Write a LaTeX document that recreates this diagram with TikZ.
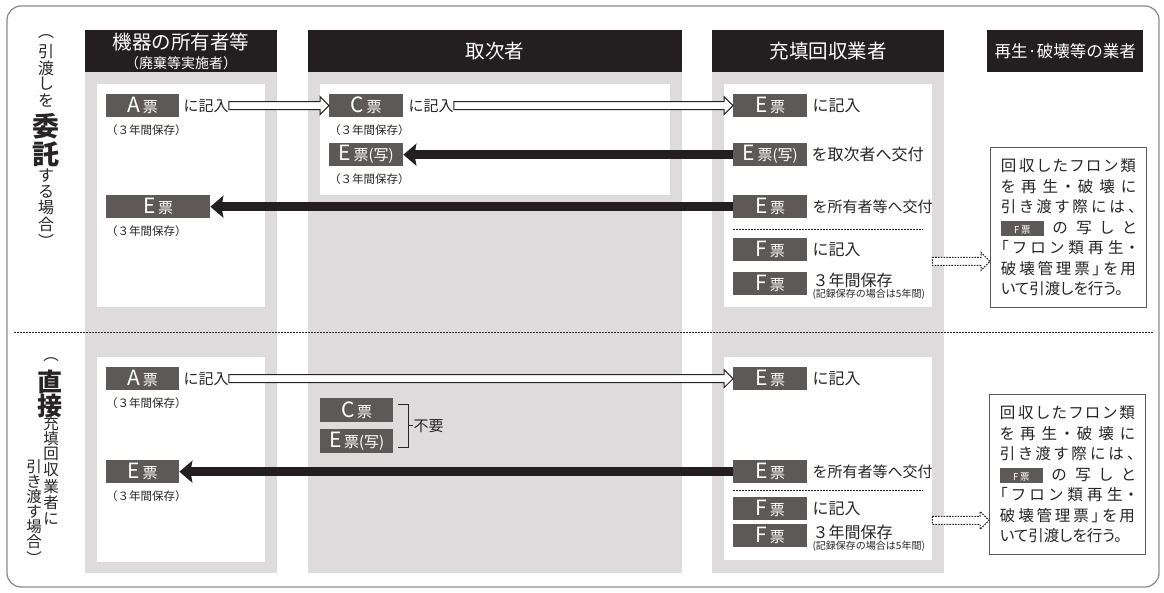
\documentclass[tikz,border=0pt]{standalone}
\usepackage{fontspec}
\setmainfont{Noto Sans CJK JP}
\newfontfamily\notefont[RawFeature=+palt]{Noto Sans CJK JP}
\usetikzlibrary{arrows.meta,calc,positioning}

\definecolor{headblack}{RGB}{35,31,32}
\definecolor{colgray}{RGB}{221,219,219}
\definecolor{ticketgray}{RGB}{94,89,89}
\definecolor{framegray}{RGB}{140,140,140}
\definecolor{inkgray}{RGB}{38,36,36}

\newcommand{\fs}[1]{\fontsize{#1}{#1}\selectfont}
\newcommand{\tk}[2][票]{{\fs{21}#2}\hspace{2.5pt}{\fs{15}#1}}
\newcommand{\fbadge}{{\setlength{\fboxsep}{0pt}\colorbox{ticketgray}{\rule[-2.5pt]{0pt}{14.5pt}\makebox[43pt]{\color{white}\fs{9.5}F\,票}}}}

\makeatletter
\newcommand{\spreadline}[1]{\makebox[135pt][s]{\@tfor\sp@ch:=#1\do{\sp@ch\hfill}\unskip}}
\makeatother

\newcommand{\notetext}{%
  \spreadline{回収したフロン類}\\
  \spreadline{を再生・破壊に}\\
  \spreadline{引き渡す際には、}\\
  \spreadline{{\fbadge}の写しと}\\
  \spreadline{「フロン類再生・}\\
  \spreadline{破壊管理票」を用}\\
  いて引渡しを行う。}

\newcommand{\hollowarrow}[3][]{%
  \path[hollow,#1] let \p1=(#2), \p2=(#3) in
    (\x1,\y1+4pt) -- (\x2-9pt,\y1+4pt) -- (\x2-9pt,\y1+9pt) -- (\x2,\y1)
    -- (\x2-9pt,\y1-9pt) -- (\x2-9pt,\y1-4pt) -- (\x1,\y1-4pt) -- cycle;}

\tikzset{
  headbar/.style={fill=headblack, text=white, inner sep=0pt, anchor=north west, minimum height=42pt},
  panel/.style={fill=white, inner sep=0pt, anchor=north west},
  ticket/.style={fill=ticketgray, text=white, inner sep=0pt, anchor=north west, minimum height=23pt, minimum width=74pt},
  keepnote/.style={anchor=north west, inner sep=0pt, text=inkgray, font=\fs{11.5}},
  actlabel/.style={anchor=west, inner sep=0pt, text=inkgray, font=\fs{15}},
  actlabelb/.style={actlabel, font=\fs{16}},
  hollow/.style={draw=inkgray, fill=white, line width=1pt},
  fatarrow/.style={line width=8.5pt, headblack, -{Stealth[length=13pt,width=22pt,inset=2pt]}},
  sepline/.style={inkgray, line width=0.6pt, dash pattern=on 1.6pt off 1.4pt},
  notebox/.style={draw=inkgray!75, line width=0.8pt, fill=white, anchor=north west, minimum width=156pt,
    minimum height=160pt, inner sep=0pt, text=inkgray, text width=135pt, align=left,
    font=\notefont\fontsize{15.5}{20.5}\selectfont},
  vch/.style={inner sep=0pt, text=inkgray, font=\fs{16}},
  vbig/.style={inner sep=0pt, text=inkgray, font=\fs{27}\bfseries},
}

\begin{document}
\begin{tikzpicture}[x=1pt, y=-1pt]
    \useasboundingbox (0,0) rectangle (1164,593);

    % frame
    \draw[framegray, line width=1.3pt, rounded corners=14pt] (7,6) rectangle (1159,587);

    % columns
    \fill[colgray] (85,72) rectangle (277,573);
    \fill[colgray] (308,72) rectangle (682,573);
    \fill[colgray] (712,72) rectangle (944,573);

    \node[headbar, minimum width=192pt, align=center, font=\fontsize{14}{19}\selectfont] (h1) at (85,30)
        {{\fs{19.5}機器の所有者等}\\{\fs{14}（廃棄等実施者）}};
    \node[headbar, minimum width=374pt, font=\fs{19.5}] (h2) at (308,30) {取次者};
    \node[headbar, minimum width=232pt, font=\fs{19.5}] (h3) at (712,30) {充填回収業者};
    \node[headbar, minimum width=156pt, font=\fs{16.5}] (h4) at (987,30) {再生·破壊等の業者};

    % white panels
    \node[panel, minimum width=168pt, minimum height=223pt] (p1a) at (97,84) {};
    \node[panel, minimum width=168pt, minimum height=205pt] (p1b) at (97,357) {};
    \node[panel, minimum width=350pt, minimum height=111pt] (p2a) at (320,84) {};
    \node[panel, minimum width=208pt, minimum height=223pt] (p3a) at (724,84) {};
    \node[panel, minimum width=208pt, minimum height=203pt] (p3b) at (724,357) {};

    \draw[sepline] (14,332) -- (1154,332);

    % side labels
    \foreach \ch/\yy in {︵/37,引/52,渡/68,し/84,を/100,す/176,る/192,場/208,合/224,︶/241}
        \node[vch] (vt\yy) at (46,\yy) {\ch};
    \node[vbig] (vtbig1) at (46,126) {委};
    \node[vbig] (vtbig2) at (46,154) {託};

    \foreach \ch/\yy in {︵/360,充/424,填/439,回/454,収/470,業/487,者/503,に/519}
        \node[vch, font=\fs{15.5}] (vr\yy) at (51,\yy) {\ch};
    \node[vbig, font=\fs{25}\bfseries] (vrbig1) at (50,382) {直};
    \node[vbig, font=\fs{25}\bfseries] (vrbig2) at (50,406) {接};
    \foreach \ch/\yy in {引/467,き/482,渡/497,す/512,場/527,合/542,︶/558}
        \node[vch, font=\fs{15.5}] (vl\yy) at (34,\yy) {\ch};

    % entrusted case
    \node[ticket, minimum width=73pt] (a1) at (106,94) {\tk{A}};
    \node[actlabel, right=4pt of a1] (a1t) {に記入};
    \node[keepnote] (a1n) at ([yshift=-7pt]a1.south west) {（３年間保存）};
    \node[ticket, minimum width=104pt] (e1) at (106,195) {\tk{E}};
    \node[keepnote] (e1n) at ([yshift=-7pt]e1.south west) {（３年間保存）};

    \node[ticket] (c2) at (329,94) {\tk{C}};
    \node[actlabel, right=5pt of c2] (c2t) {に記入};
    \node[keepnote] (c2n) at ([yshift=-7pt]c2.south west) {（３年間保存）};
    \node[ticket] (ec2) at (329,143) {\tk[票(写)]{E}};
    \node[keepnote] (ec2n) at ([yshift=-7pt]ec2.south west) {（３年間保存）};

    \node[ticket] (e3a) at (733,94) {\tk{E}};
    \node[actlabelb, right=5pt of e3a] (e3at) {に記入};
    \node[ticket] (ec3) at (733,143) {\tk[票(写)]{E}};
    \node[actlabelb, right=4pt of ec3] (ec3t) {を取次者へ交付};
    \node[ticket] (e3b) at (733,195) {\tk{E}};
    \node[actlabelb, font=\fs{15}, right=5pt of e3b] (e3bt) {を所有者等へ交付};
    \draw[sepline] ([yshift=-11pt]e3b.south west) -- ++(190pt,0);
    \node[ticket] (f3a) at (733,238) {\tk{F}};
    \node[actlabelb, right=5pt of f3a] (f3at) {に記入};
    \node[ticket] (f3b) at (733,272) {\tk{F}};
    \node[actlabel, anchor=north west, font=\fs{16}] (f3bt) at ([xshift=5pt,yshift=-1pt]f3b.north east) {３年間保存};
    \node[keepnote, font=\fs{10}] (f3bn) at ([yshift=-1pt]f3bt.south west) {(記録保存の場合は5年間)};

    \node[notebox] (note1) at (990,147) {\notetext};

    \hollowarrow{a1t.east |- a1.east}{c2.west}
    \hollowarrow{c2t.east |- c2.east}{e3a.west}
    \draw[fatarrow] (ec3.west) -- (ec2.east);
    \draw[fatarrow] (e3b.west) -- (e1.east |- e3b.west);
    \hollowarrow[dash pattern=on 1.6pt off 1.2pt]{p3a.east |- f3a.south}{note1.west}

    % direct case
    \node[ticket, minimum width=73pt] (a1b) at (106,367) {\tk{A}};
    \node[actlabel, right=4pt of a1b] (a1bt) {に記入};
    \node[keepnote] (a1bn) at ([yshift=-7pt]a1b.south west) {（３年間保存）};
    \node[ticket, minimum width=73pt] (e1b) at (106,460) {\tk{E}};
    \node[keepnote] (e1bn) at ([yshift=-7pt]e1b.south west) {（３年間保存）};

    \node[ticket, minimum width=73pt, minimum height=24pt] (c2b) at (320,398) {\tk{C}};
    \node[ticket, minimum width=73pt, minimum height=24pt] (ec2b) at (320,429) {\tk[票(写)]{E}};
    \coordinate (brt) at ([shift={(5pt,-6pt)}]c2b.north east);
    \coordinate (brb) at ([shift={(5pt,6pt)}]ec2b.south east);
    \draw[inkgray, line width=0.8pt] (brt) -- ++(10pt,0) |- (brb);
    \coordinate (brm) at ([xshift=10pt]$(brt)!0.5!(brb)$);
    \node[actlabel] (fuyo) at ([xshift=5pt]brm) {不要};
    \draw[inkgray, line width=0.8pt] (brm) -- (fuyo.west);

    \node[ticket] (e3c) at (733,367) {\tk{E}};
    \node[actlabelb, right=5pt of e3c] (e3ct) {に記入};
    \node[ticket] (e3d) at (733,460) {\tk{E}};
    \node[actlabelb, font=\fs{15}, right=5pt of e3d] (e3dt) {を所有者等へ交付};
    \draw[sepline] ([yshift=-7pt]e3d.south west) -- ++(190pt,0);
    \node[ticket] (f3c) at (733,497) {\tk{F}};
    \node[actlabelb, right=5pt of f3c] (f3ct) {に記入};
    \node[ticket] (f3d) at (733,524) {\tk{F}};
    \node[actlabel, anchor=north west, font=\fs{16}] (f3dt) at ([xshift=5pt,yshift=-1pt]f3d.north east) {３年間保存};
    \node[keepnote, font=\fs{10}] (f3dn) at ([yshift=-1pt]f3dt.south west) {(記録保存の場合は5年間)};

    \node[notebox] (note2) at (989,394) {\notetext};

    \hollowarrow{a1bt.east |- a1b.east}{e3c.west}
    \draw[fatarrow] (e3d.west) -- (e1b.east |- e3d.west);
    \hollowarrow[dash pattern=on 1.6pt off 1.2pt]{p3b.east |- f3c.south}{note2.west}
\end{tikzpicture}
\end{document}
